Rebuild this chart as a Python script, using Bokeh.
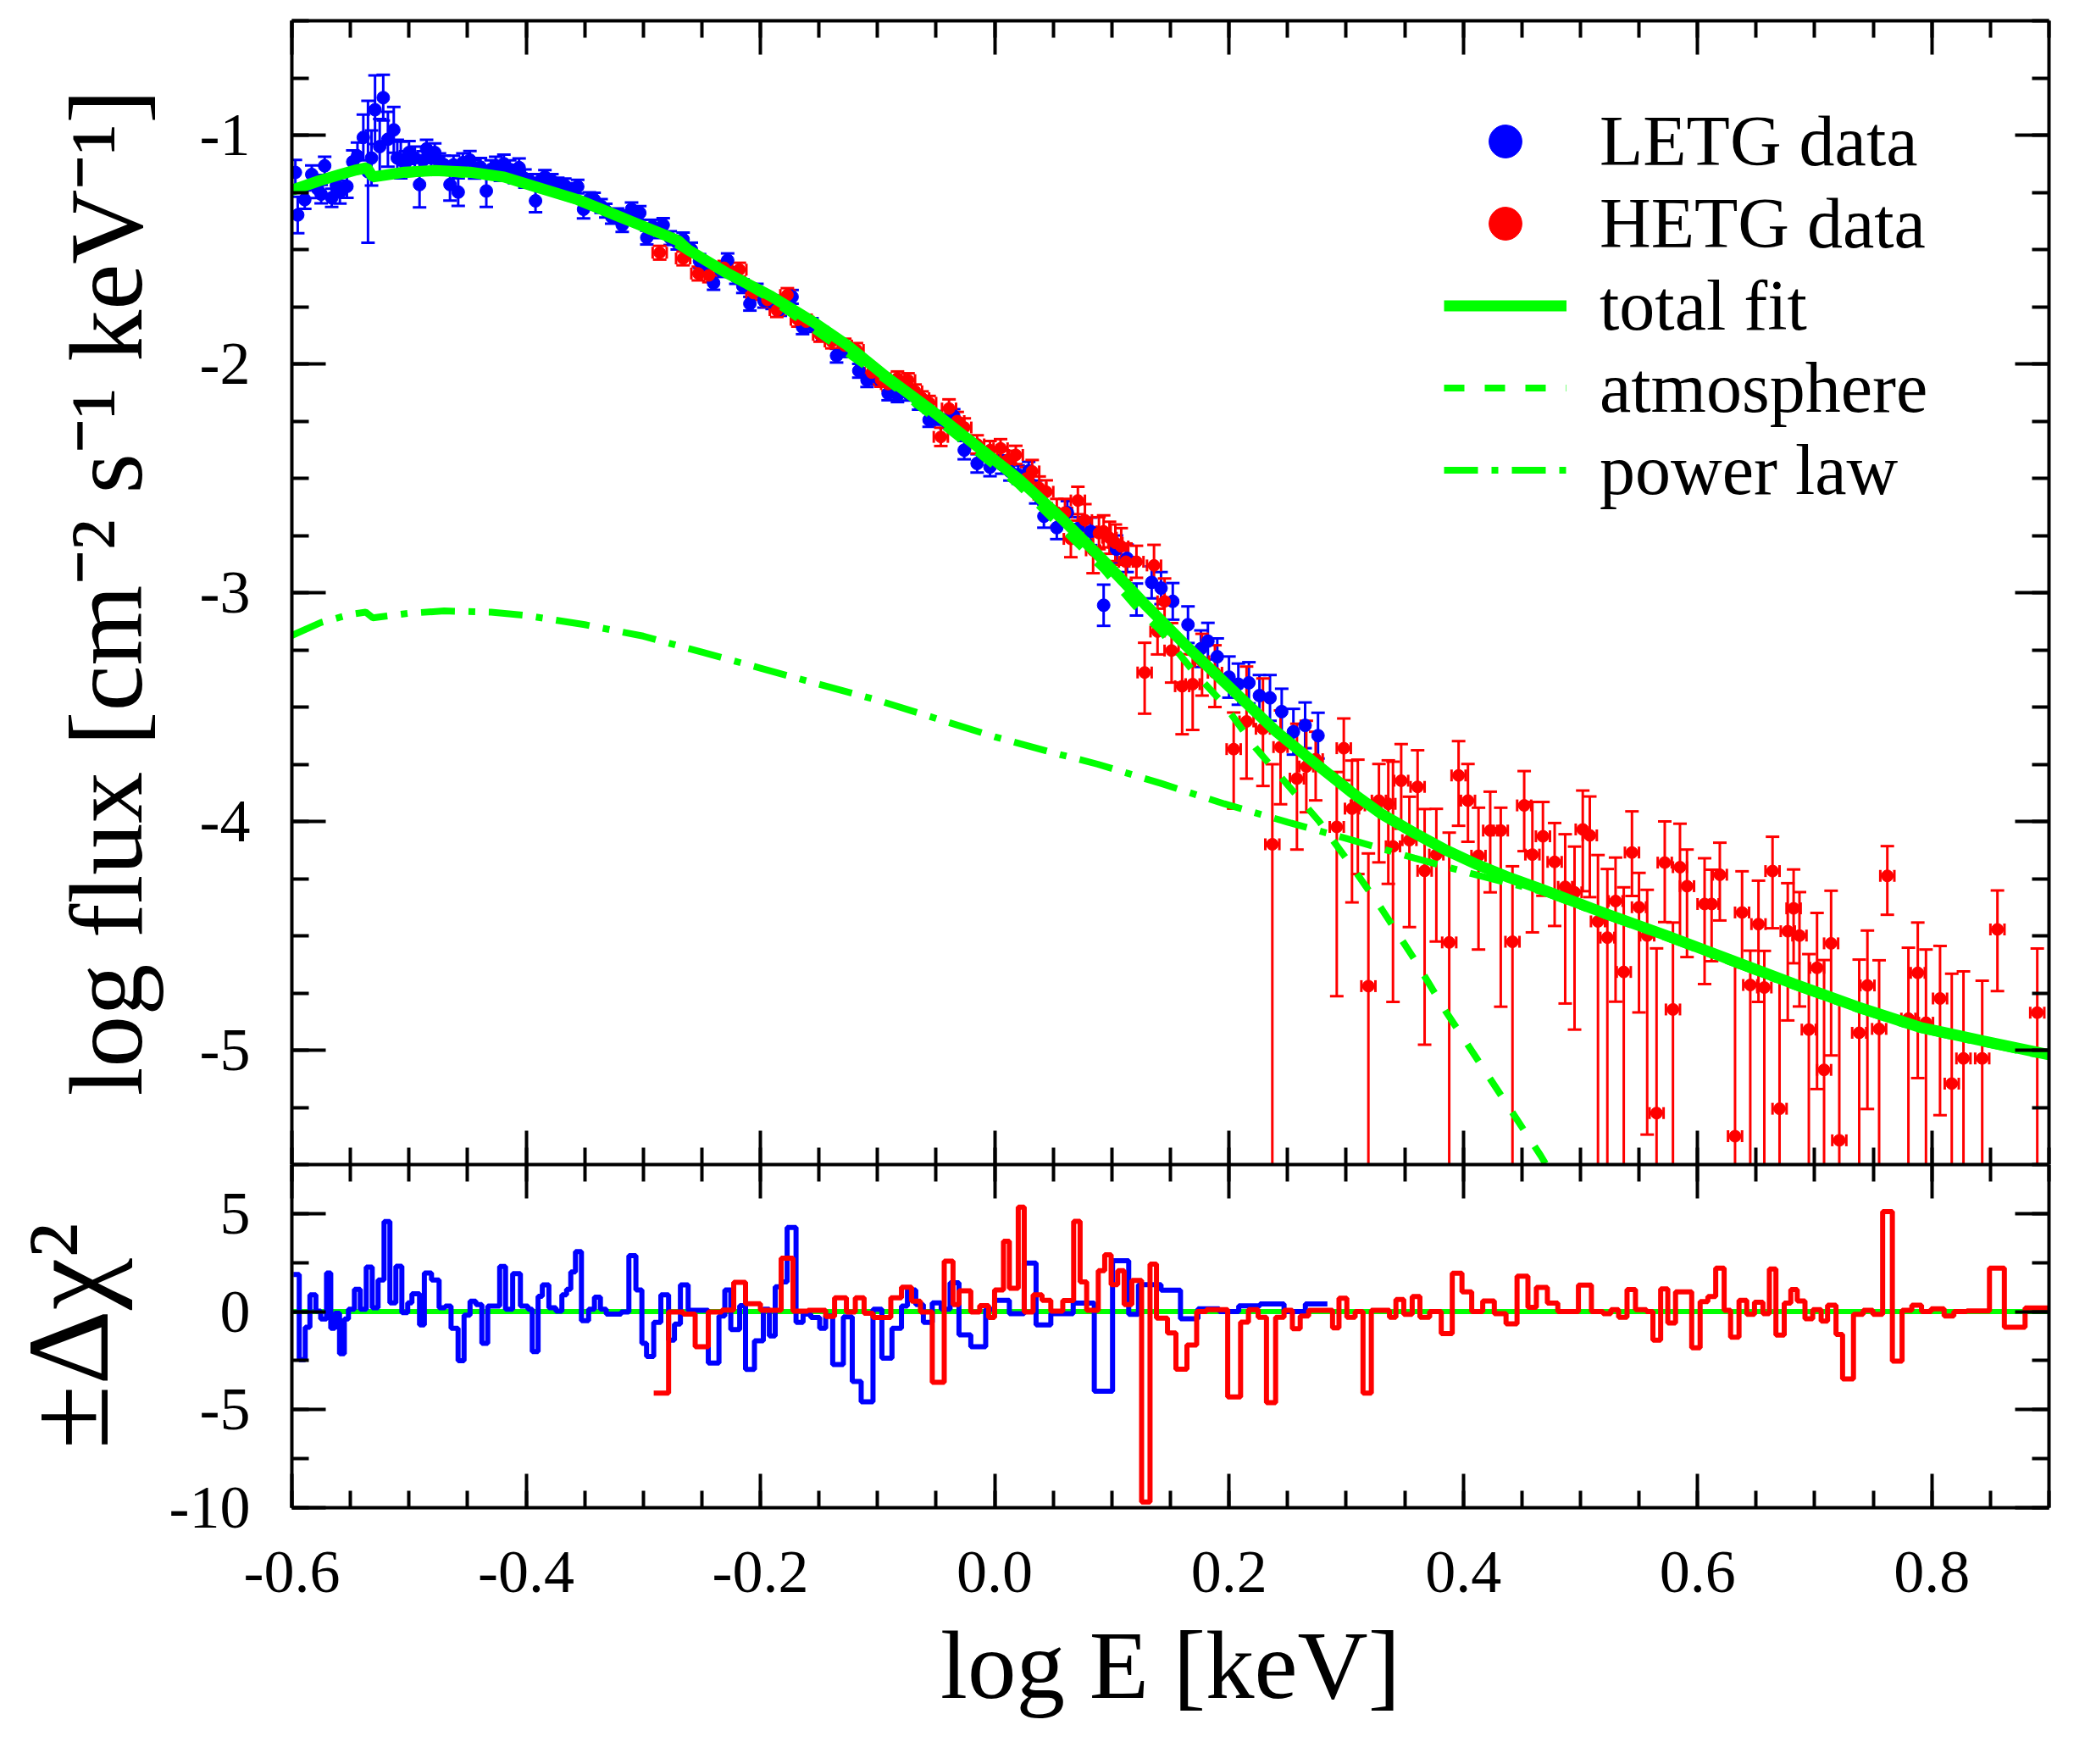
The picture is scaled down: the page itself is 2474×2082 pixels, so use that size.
import math
from bokeh.plotting import figure
from bokeh.models import (Range1d, LinearAxis, FixedTicker, PrintfTickFormatter, Whisker,
                          TeeHead, ColumnDataSource, Legend, LegendItem, Span)
from bokeh.layouts import column
from bokeh.embed import file_html
from bokeh.resources import INLINE

FONT = "Liberation Serif"
GREEN = "#00ff00"
BLUE = "#0000ff"
RED = "#ff0000"

# ---------------- tick positions / labels ----------------
x_major = [-0.6, -0.4, -0.2, 0.0, 0.2, 0.4, 0.6, 0.8]
x_minor = [round(-0.6 + 0.05 * i, 2) for i in range(31)]
flux_major = [-5, -4, -3, -2, -1]
flux_minor = [round(-5.5 + 0.25 * i, 2) for i in range(21)]
res_major = [-10, -5, 0, 5]
res_minor = [-10, -7.5, -5, -2.5, 0, 2.5, 5, 7.5]

# ---------------- LETG data ----------------
letg_x = [-0.597, -0.595, -0.589, -0.583, -0.578, -0.575, -0.572, -0.566, -0.562, -0.559,
          -0.553, -0.548, -0.544, -0.539, -0.535, -0.532, -0.529, -0.525, -0.522, -0.518,
          -0.513, -0.510, -0.507, -0.503, -0.500, -0.495, -0.491, -0.488, -0.485, -0.481,
          -0.478, -0.474, -0.470, -0.465, -0.462, -0.458, -0.454, -0.448, -0.444, -0.439,
          -0.434, -0.430, -0.426, -0.422, -0.419, -0.414, -0.410, -0.406, -0.401, -0.397,
          -0.392, -0.388, -0.384, -0.378, -0.373, -0.367, -0.362, -0.356, -0.351, -0.346,
          -0.342, -0.336, -0.332, -0.327, -0.322, -0.318, -0.314, -0.310, -0.303, -0.297,
          -0.292, -0.288, -0.283, -0.277, -0.271, -0.266, -0.259, -0.252, -0.246, -0.240,
          -0.234, -0.228, -0.221, -0.215, -0.209, -0.203, -0.197, -0.190, -0.183, -0.173,
          -0.164, -0.156, -0.147, -0.135, -0.127, -0.116, -0.109, -0.100, -0.091, -0.083,
          -0.074, -0.065, -0.056, -0.050, -0.042, -0.035, -0.026, -0.015, -0.004, 0.006,
          0.013, 0.020, 0.029, 0.035, 0.042, 0.053, 0.062, 0.071, 0.082, 0.093,
          0.104, 0.113, 0.121, 0.134, 0.142, 0.152, 0.165, 0.176, 0.182, 0.190,
          0.200, 0.208, 0.217, 0.226, 0.235, 0.245, 0.255, 0.265, 0.276]
letg_y = [-1.163, -1.349, -1.282, -1.172, -1.235, -1.258, -1.134, -1.274, -1.220, -1.249,
          -1.224, -1.117, -1.092, -1.010, -1.160, -1.100, -0.889, -1.050, -0.836, -1.018,
          -0.977, -1.100, -1.109, -1.120, -1.076, -1.100, -1.216, -1.110, -1.060, -1.100,
          -1.076, -1.120, -1.130, -1.216, -1.130, -1.249, -1.120, -1.109, -1.150, -1.140,
          -1.244, -1.150, -1.134, -1.160, -1.125, -1.150, -1.170, -1.142, -1.190, -1.200,
          -1.287, -1.200, -1.183, -1.200, -1.216, -1.220, -1.240, -1.225, -1.324, -1.280,
          -1.282, -1.310, -1.330, -1.357, -1.350, -1.393, -1.360, -1.324, -1.340, -1.448,
          -1.400, -1.420, -1.393, -1.450, -1.470, -1.456, -1.500, -1.550, -1.580, -1.646,
          -1.590, -1.547, -1.620, -1.660, -1.737, -1.680, -1.724, -1.730, -1.760, -1.707,
          -1.840, -1.830, -1.870, -1.964, -1.940, -2.030, -2.071, -2.060, -2.129, -2.137,
          -2.130, -2.170, -2.245, -2.236, -2.250, -2.228, -2.377, -2.435, -2.451, -2.440,
          -2.470, -2.484, -2.468, -2.560, -2.666, -2.716, -2.650, -2.720, -2.732, -3.055,
          -2.810, -2.850, -3.030, -2.955, -2.980, -3.038, -3.140, -3.245, -3.212, -3.280,
          -3.369, -3.400, -3.394, -3.450, -3.460, -3.520, -3.608, -3.580, -3.625]
letg_err = [0.055, 0.08, 0.04, 0.04, 0.04, 0.04, 0.04, 0.04, 0.04, 0.05,
            0.05, 0.05, 0.06, 0.10, 0.31, 0.12, 0.15, 0.12, 0.10, 0.12,
            0.10, 0.08, 0.08, 0.05, 0.05, 0.05, 0.10, 0.04, 0.04, 0.04,
            0.04, 0.04, 0.04, 0.07, 0.04, 0.06, 0.04, 0.04, 0.04, 0.04,
            0.07, 0.04, 0.04, 0.04, 0.04, 0.04, 0.04, 0.04, 0.04, 0.03,
            0.05, 0.03, 0.03, 0.03, 0.03, 0.03, 0.03, 0.03, 0.04, 0.03,
            0.03, 0.03, 0.03, 0.03, 0.03, 0.03, 0.03, 0.03, 0.03, 0.03,
            0.03, 0.03, 0.03, 0.03, 0.03, 0.03, 0.03, 0.03, 0.03, 0.03,
            0.03, 0.03, 0.03, 0.03, 0.03, 0.03, 0.03, 0.03, 0.03, 0.03,
            0.03, 0.03, 0.03, 0.03, 0.03, 0.03, 0.03, 0.03, 0.03, 0.03,
            0.03, 0.03, 0.03, 0.03, 0.03, 0.03, 0.04, 0.04, 0.04, 0.04,
            0.04, 0.04, 0.04, 0.05, 0.05, 0.05, 0.05, 0.05, 0.06, 0.09,
            0.06, 0.06, 0.07, 0.07, 0.07, 0.08, 0.08, 0.08, 0.08, 0.08,
            0.09, 0.09, 0.09, 0.09, 0.10, 0.10, 0.10, 0.10, 0.10]

# ---------------- HETG data ----------------
hetg_x = [-0.286, -0.266, -0.253, -0.244, -0.231, -0.218, -0.206, -0.194, -0.186, -0.177,
          -0.168, -0.161, -0.149, -0.139, -0.128, -0.118, -0.105, -0.097, -0.091, -0.083,
          -0.074, -0.068, -0.062, -0.056, -0.046, -0.039, -0.032, -0.026, -0.015, -0.004,
          0.005, 0.011, 0.018, 0.027, 0.032, 0.038, 0.044, 0.053, 0.060, 0.065,
          0.071, 0.077, 0.084, 0.089, 0.093, 0.098, 0.103, 0.108, 0.112, 0.121,
          0.128, 0.136, 0.139, 0.145, 0.151, 0.160, 0.169, 0.177, 0.188, 0.204,
          0.215, 0.229, 0.237, 0.244, 0.258, 0.266, 0.274, 0.292, 0.298, 0.305,
          0.310, 0.319, 0.328, 0.336, 0.340, 0.347, 0.354, 0.361, 0.367, 0.377,
          0.388, 0.396, 0.404, 0.413, 0.423, 0.432, 0.442, 0.452, 0.459, 0.468,
          0.478, 0.487, 0.495, 0.502, 0.508, 0.515, 0.523, 0.530, 0.537, 0.544,
          0.550, 0.557, 0.565, 0.572, 0.579, 0.585, 0.591, 0.606, 0.612, 0.619,
          0.632, 0.638, 0.645, 0.652, 0.657, 0.664, 0.670, 0.677, 0.682, 0.687,
          0.695, 0.702, 0.708, 0.714, 0.721, 0.738, 0.745, 0.755, 0.762, 0.780,
          0.788, 0.795, 0.807, 0.817, 0.827, 0.843, 0.856, 0.890]
hetg_y = [-1.514, -1.539, -1.605, -1.613, -1.580, -1.588, -1.690, -1.720, -1.765, -1.699,
          -1.807, -1.815, -1.873, -1.902, -1.920, -1.939, -2.038, -2.070, -2.088, -2.063,
          -2.071, -2.120, -2.150, -2.170, -2.319, -2.195, -2.250, -2.278, -2.352, -2.377,
          -2.369, -2.420, -2.398, -2.501, -2.470, -2.542, -2.559, -2.650, -2.650, -2.765,
          -2.597, -2.683, -2.815, -2.740, -2.732, -2.760, -2.782, -2.798, -2.865, -2.865,
          -3.349, -2.881, -3.170, -3.038, -3.253, -3.409, -3.400, -3.300, -3.350, -3.684,
          -3.563, -3.595, -4.100, -3.675, -3.813, -3.760, -3.728, -4.024, -3.680, -3.944,
          -3.930, -4.720, -3.909, -3.923, -4.109, -3.822, -4.082, -3.849, -4.216, -4.145,
          -4.529, -3.799, -3.909, -4.150, -4.040, -4.040, -4.526, -3.930, -4.145, -4.065,
          -4.177, -4.286, -4.310, -4.035, -4.061, -4.437, -4.508, -4.348, -4.658, -4.136,
          -4.375, -4.499, -5.275, -4.180, -4.822, -4.200, -4.283, -4.361, -4.361, -4.233,
          -5.376, -4.398, -4.715, -4.449, -4.726, -4.217, -5.256, -4.480, -4.380, -4.499,
          -4.910, -4.640, -5.086, -4.533, -5.394, -4.924, -4.717, -4.907, -4.238, -4.862,
          -4.662, -4.880, -4.774, -5.146, -5.036, -5.036, -4.472, -4.836]
hetg_up = [0.03, 0.03, 0.03, 0.03, 0.03, 0.03, 0.03, 0.03, 0.03, 0.03,
           0.03, 0.03, 0.03, 0.03, 0.03, 0.03, 0.03, 0.03, 0.03, 0.03,
           0.03, 0.03, 0.03, 0.03, 0.04, 0.04, 0.04, 0.04, 0.04, 0.04,
           0.04, 0.04, 0.04, 0.05, 0.05, 0.05, 0.05, 0.06, 0.06, 0.08,
           0.06, 0.07, 0.10, 0.07, 0.07, 0.07, 0.08, 0.08, 0.08, 0.07,
           0.13, 0.09, 0.10, 0.10, 0.12, 0.14, 0.13, 0.12, 0.12, 0.16,
           0.24, 0.22, 0.35, 0.16, 0.24, 0.20, 0.12, 0.24, 0.13, 0.21,
           0.20, 0.58, 0.16, 0.19, 0.37, 0.16, 0.19, 0.16, 0.27, 0.20,
           0.48, 0.15, 0.16, 0.21, 0.17, 0.10, 0.33, 0.15, 0.23, 0.15,
           0.17, 0.23, 0.20, 0.17, 0.17, 0.29, 0.30, 0.19, 0.37, 0.18,
           0.15, 0.20, 0.72, 0.18, 0.38, 0.19, 0.16, 0.20, 0.15, 0.14,
           0.76, 0.18, 0.15, 0.19, 0.16, 0.15, 0.57, 0.21, 0.17, 0.19,
           0.33, 0.24, 0.48, 0.23, 0.61, 0.32, 0.24, 0.30, 0.13, 0.31,
           0.22, 0.32, 0.23, 0.48, 0.38, 0.34, 0.17, 0.28]
hetg_dn = [0.03, 0.03, 0.03, 0.03, 0.03, 0.03, 0.03, 0.03, 0.03, 0.03,
           0.03, 0.03, 0.03, 0.03, 0.03, 0.03, 0.03, 0.03, 0.03, 0.03,
           0.03, 0.03, 0.03, 0.03, 0.04, 0.04, 0.04, 0.04, 0.04, 0.04,
           0.04, 0.04, 0.04, 0.05, 0.05, 0.05, 0.05, 0.06, 0.06, 0.08,
           0.06, 0.07, 0.10, 0.07, 0.07, 0.07, 0.08, 0.08, 0.08, 0.07,
           0.18, 0.09, 0.10, 0.10, 0.14, 0.21, 0.20, 0.15, 0.15, 0.26,
           0.25, 0.25, 3.0, 0.25, 0.31, 0.20, 0.18, 0.74, 0.14, 0.41,
           0.30, 3.0, 0.27, 0.35, 0.68, 0.21, 0.38, 0.23, 0.76, 0.38,
           3.0, 0.22, 0.18, 0.41, 0.27, 0.77, 3.0, 0.20, 0.34, 0.26,
           0.28, 0.51, 0.60, 0.27, 0.27, 3.0, 3.0, 0.44, 3.0, 0.19,
           0.46, 0.87, 3.0, 0.26, 3.0, 0.32, 0.31, 0.35, 0.25, 0.20,
           3.0, 0.24, 3.0, 0.34, 3.0, 0.25, 3.0, 0.39, 0.24, 0.31,
           3.0, 0.53, 3.0, 0.49, 3.0, 3.0, 0.54, 3.0, 0.17, 3.0,
           0.46, 3.0, 0.51, 3.0, 3.0, 3.0, 0.27, 3.0]
hetg_xerr = 0.006

# ---------------- model curves ----------------
total_x = [-0.6, -0.577, -0.559, -0.545, -0.536, -0.531, -0.504, -0.478, -0.448, -0.419,
           -0.393, -0.356, -0.32, -0.285, -0.270, -0.262, -0.228, -0.191, -0.154, -0.127,
           -0.091, -0.054, -0.017, 0.02, 0.057, 0.093, 0.13, 0.167, 0.204, 0.241,
           0.277, 0.304, 0.331, 0.358, 0.385, 0.412, 0.439, 0.466, 0.52, 0.574,
           0.628, 0.682, 0.736, 0.79, 0.844, 0.9]
total_y = [-1.241, -1.20, -1.172, -1.152, -1.142, -1.183, -1.162, -1.155, -1.162, -1.183,
           -1.224, -1.282, -1.357, -1.430, -1.462, -1.50, -1.605, -1.704, -1.82, -1.914,
           -2.063, -2.203, -2.352, -2.501, -2.675, -2.86, -3.06, -3.25, -3.43, -3.61,
           -3.76, -3.87, -3.97, -4.05, -4.125, -4.189, -4.245, -4.295, -4.40, -4.50,
           -4.605, -4.71, -4.81, -4.90, -4.96, -5.02]
atm_x = [-0.6, -0.559, -0.537, -0.531, -0.478, -0.419, -0.356, -0.285, -0.262, -0.191,
         -0.091, 0.02, 0.093, 0.12, 0.142, 0.169, 0.196, 0.223, 0.25, 0.277,
         0.304, 0.33, 0.358, 0.385, 0.412, 0.439, 0.466, 0.48]
atm_y = [-1.246, -1.176, -1.143, -1.188, -1.16, -1.19, -1.29, -1.44, -1.51, -1.72,
         -2.08, -2.53, -2.90, -3.06, -3.17, -3.34, -3.49, -3.68, -3.84, -4.00,
         -4.19, -4.38, -4.60, -4.83, -5.04, -5.25, -5.46, -5.58]
pl_x = [-0.6, -0.575, -0.55, -0.537, -0.531, -0.50, -0.47, -0.43, -0.40, -0.35,
        -0.30, -0.25, -0.20, -0.15, -0.10, -0.05, 0.0, 0.05, 0.088, 0.142,
        0.196, 0.25, 0.304, 0.358, 0.412, 0.466, 0.52, 0.574, 0.628, 0.682,
        0.736, 0.79, 0.844, 0.9]
pl_y = [-3.187, -3.13, -3.095, -3.085, -3.11, -3.09, -3.08, -3.085, -3.10, -3.14,
        -3.19, -3.26, -3.33, -3.40, -3.47, -3.55, -3.63, -3.70, -3.75, -3.834,
        -3.923, -4.003, -4.08, -4.16, -4.235, -4.305, -4.41, -4.51, -4.615, -4.72,
        -4.82, -4.91, -4.97, -5.03]

# ---------------- residuals (bin left edges, values) ----------------
letg_res_left = [-0.5987, -0.5937, -0.5886, -0.5846, -0.5795, -0.5754, -0.5704, -0.5668, -0.5633, -0.5593,
                 -0.5552, -0.5517, -0.5466, -0.5416, -0.5365, -0.5314, -0.5264, -0.5213, -0.5163, -0.5112,
                 -0.5061, -0.5011, -0.4975, -0.4910, -0.4869, -0.4808, -0.4743, -0.4692, -0.4641, -0.4581,
                 -0.4530, -0.4479, -0.4429, -0.4378, -0.4328, -0.4226, -0.4176, -0.4115, -0.4049, -0.3984,
                 -0.3948, -0.3898, -0.3862, -0.3806, -0.3746, -0.3695, -0.3655, -0.3619, -0.3579, -0.3528,
                 -0.3467, -0.3417, -0.3366, -0.3316, -0.3189, -0.3123, -0.3063, -0.3012, -0.2972, -0.2911,
                 -0.2850, -0.2784, -0.2734, -0.2683, -0.2617, -0.2445, -0.2354, -0.2304, -0.2253, -0.2177,
                 -0.2127, -0.2051, -0.1975, -0.1924, -0.1874, -0.1823, -0.1772, -0.1696, -0.1636, -0.1570,
                 -0.1494, -0.1443, -0.1383, -0.1292, -0.1216, -0.1140, -0.1039, -0.0963, -0.0877, -0.0796,
                 -0.0745, -0.0674, -0.0609, -0.0533, -0.0457, -0.0381, -0.0305, -0.0204, -0.0077, -0.0001,
                 0.0125, 0.0252, 0.0353, 0.0479, 0.067, 0.085, 0.1006, 0.1144, 0.1227, 0.1420,
                 0.1586, 0.1735, 0.1917, 0.2083, 0.2265, 0.2470, 0.2652]
letg_res_val = [1.89, -2.45, -0.80, 0.86, 0.03, -0.38, 1.97, -0.85, -0.08, -2.15,
                -0.38, 0.12, 1.14, 0.12, 2.27, 0.20, 1.61, 4.59, 0.45, 2.32,
                -0.05, 0.45, 0.91, -0.68, 1.97, 1.61, 0.20, 0.28, -0.85, -2.50,
                -0.18, 0.53, 0.36, -1.62, 0.28, 2.30, 0.12, 1.94, 0.28, 0.12,
                -2.04, 0.78, 1.36, 0.20, 0.03, 0.86, 1.14, 2.02, 3.06, -0.46,
                0.12, 0.74, 0.12, -0.13, -0.02, 2.85, 1.11, -1.62, -2.29, -0.55,
                0.86, -1.46, -0.63, 1.36, 0.07, -2.62, -0.22, 1.11, -0.91, 0.31,
                -2.95, -1.49, 0.12, -1.24, 1.27, 1.52, 4.29, -0.55, -0.13, -0.30,
                -0.85, -0.22, -2.70, -0.27, -3.56, -4.60, 0.12, -2.37, -0.85, 0.28,
                1.11, 0.36, -0.55, 0.45, 0.12, 1.47, -1.18, -1.79, 0.12, 0.58,
                -0.10, 2.48, -0.68, -0.10, 0.43, -4.06, 2.60, -0.14, 1.38, 1.09,
                -0.36, 0.14, 0.0, 0.29, 0.39, 0.0, 0.39]
letg_res_end = 0.2840

hetg_res_left = [-0.2911, -0.2784, -0.2658, -0.2557, -0.2445, -0.2329, -0.2228, -0.2127, -0.2000, -0.1823,
                 -0.1722, -0.1595, -0.1443, -0.1367, -0.1266, -0.1190, -0.1115, -0.1039, -0.0887, -0.0796,
                 -0.0710, -0.0634, -0.0533, -0.0431, -0.0356, -0.0305, -0.0204, -0.0128, -0.0052, -0.0001,
                 0.0075, 0.0125, 0.0201, 0.0252, 0.0328, 0.0404, 0.0479, 0.0581, 0.0674, 0.0729,
                 0.0785, 0.0884, 0.0939, 0.0994, 0.1050, 0.1105, 0.1171, 0.1254, 0.1326, 0.1381,
                 0.1475, 0.1547, 0.1641, 0.1724, 0.1807, 0.1989, 0.2099, 0.2166, 0.2249, 0.2320,
                 0.2398, 0.2470, 0.2541, 0.2608, 0.2680, 0.2884, 0.2939, 0.3006, 0.3077, 0.3144,
                 0.3215, 0.3370, 0.3425, 0.3492, 0.3564, 0.3630, 0.3713, 0.3812, 0.3906, 0.3989,
                 0.4072, 0.4166, 0.4265, 0.4365, 0.4459, 0.4552, 0.4624, 0.4718, 0.4807, 0.4983,
                 0.5094, 0.5193, 0.5260, 0.5326, 0.5398, 0.5470, 0.5564, 0.5619, 0.5685, 0.5746,
                 0.5812, 0.5950, 0.6022, 0.6088, 0.6155, 0.6227, 0.6282, 0.6354, 0.6420, 0.6486,
                 0.6558, 0.6613, 0.6669, 0.6740, 0.6796, 0.6851, 0.6917, 0.6983, 0.7055, 0.7110,
                 0.7182, 0.7238, 0.7331, 0.7414, 0.7497, 0.7580, 0.7663, 0.7746, 0.7829, 0.7912,
                 0.7994, 0.8105, 0.8188, 0.8298, 0.8492, 0.8619, 0.8796]
hetg_res_val = [-4.16, -0.02, -0.13, -1.79, -0.02, 0.08, 1.49, 0.40, 0.07, 2.72,
                0.03, 0.07, -0.25, 0.70, -0.02, 0.70, -0.08, -0.30, 0.70, 1.24,
                0.53, -0.02, -3.61, 2.57, 0.36, 1.06, -0.02, 0.31, -0.30, 1.11,
                3.59, 1.19, 5.33, -0.02, 0.86, 0.58, 0.03, 0.56, 4.60, 1.52,
                0.07, 2.09, 2.90, 1.38, 2.09, 0.36, 1.59, -9.71, 2.42, -0.33,
                -1.09, -2.94, -1.70, 0.0, 0.10, -4.35, -0.54, 0.10, -0.29, -4.64,
                -0.29, 0.07, -0.87, -0.22, 0.07, -0.83, 0.68, -0.29, 0.0, -4.16,
                0.07, -0.29, 0.62, -0.14, 0.77, -0.29, 0.0, -1.12, 1.96, 1.01,
                0.0, 0.54, -0.10, -0.62, 1.81, 0.22, 1.23, 0.43, 0.0, 1.35,
                0.0, -0.10, 0.10, -0.29, 1.13, 0.10, 0.0, -1.45, 1.16, -0.58,
                1.01, -1.84, 0.51, 0.77, 2.22, 0.07, -1.30, 0.58, -0.14, 0.48,
                -0.10, 2.17, -1.20, 0.43, 1.13, 0.54, -0.36, 0.10, -0.48, 0.33,
                -1.16, -3.43, -0.14, 0.07, -0.14, 5.10, -2.52, 0.07, 0.33, 0.0,
                0.14, -0.22, 0.0, 0.04, 2.22, -0.80, 0.19]
hetg_res_end = 0.9

# ---------------- helpers ----------------
def style_axis(ax, show_labels=True):
    ax.axis_line_width = 4
    ax.axis_line_color = "black"
    ax.major_tick_line_width = 4
    ax.minor_tick_line_width = 4
    ax.major_tick_line_color = "black"
    ax.minor_tick_line_color = "black"
    ax.major_tick_in = 40
    ax.major_tick_out = 0
    ax.minor_tick_in = 20
    ax.minor_tick_out = 0
    ax.major_label_text_font = FONT
    ax.major_label_text_font_size = "72px"
    ax.major_label_text_color = "black"
    if not show_labels:
        ax.major_label_text_font_size = "0px"
        ax.major_label_standoff = 0
    ax.axis_label_text_font = FONT
    ax.axis_label_text_font_style = "normal"
    ax.axis_label_text_color = "black"


W = 2450
LEFT, RIGHT = 339, 32
xr = Range1d(-0.6, 0.9)
xt = FixedTicker(ticks=x_major, minor_ticks=x_minor)

# ---------------- main panel ----------------
main = figure(width=W, height=1374, x_range=xr, y_range=Range1d(-5.5, -0.5),
              output_backend="svg", toolbar_location=None,
              min_border_left=LEFT, min_border_right=RIGHT, min_border_top=24, min_border_bottom=0,
              background_fill_color="white", border_fill_color="white")
main.grid.visible = False
main.outline_line_color = None
yt_main = FixedTicker(ticks=flux_major, minor_ticks=flux_minor)

main.xaxis.ticker = xt
style_axis(main.xaxis[0], show_labels=False)
main.yaxis.ticker = yt_main
main.yaxis.formatter = PrintfTickFormatter(format="%d")
style_axis(main.yaxis[0])
main.yaxis.major_label_standoff = 49
main.yaxis.axis_label = "log flux [cm\u207b\u00b2 s\u207b\u00b9 keV\u207b\u00b9]"
main.yaxis.axis_label_text_font_size = "122px"
main.yaxis.axis_label_standoff = 40

top_ax = LinearAxis(ticker=xt)
style_axis(top_ax, show_labels=False)
main.add_layout(top_ax, "above")
right_ax = LinearAxis(ticker=yt_main)
style_axis(right_ax, show_labels=False)
main.add_layout(right_ax, "right")

# data sources with error limits
src_l = ColumnDataSource(dict(
    x=letg_x, y=letg_y,
    lo=[y - e for y, e in zip(letg_y, letg_err)],
    hi=[y + e for y, e in zip(letg_y, letg_err)]))
src_h = ColumnDataSource(dict(
    x=hetg_x, y=hetg_y,
    lo=[y - d for y, d in zip(hetg_y, hetg_dn)],
    hi=[y + u for y, u in zip(hetg_y, hetg_up)],
    xlo=[x - hetg_xerr for x in hetg_x],
    xhi=[x + hetg_xerr for x in hetg_x]))

def yerr(src, col):
    w = Whisker(source=src, base="x", lower="lo", upper="hi", dimension="height",
                line_color=col, line_width=3,
                lower_head=TeeHead(size=16, line_color=col, line_width=3),
                upper_head=TeeHead(size=16, line_color=col, line_width=3))
    w.level = "underlay"
    main.add_layout(w)

yerr(src_l, BLUE)
yerr(src_h, RED)
wx = Whisker(source=src_h, base="y", lower="xlo", upper="xhi", dimension="width",
             line_color=RED, line_width=3,
             lower_head=TeeHead(size=14, line_color=RED, line_width=3),
             upper_head=TeeHead(size=14, line_color=RED, line_width=3))
wx.level = "underlay"
main.add_layout(wx)

main.scatter("x", "y", source=src_l, size=15, color=BLUE, marker="circle")
main.scatter("x", "y", source=src_h, size=14, color=RED, marker="circle")

r_atm = main.line(atm_x, atm_y, line_color=GREEN, line_width=8, line_dash="24 24")
r_pl = main.line(pl_x, pl_y, line_color=GREEN, line_width=8, line_dash="40 16 8 16")
r_tot = main.line(total_x, total_y, line_color=GREEN, line_width=13)

# legend proxies (no visible data)
leg_l = main.scatter([math.nan], [math.nan], size=32, color=BLUE, marker="circle")
leg_h = main.scatter([math.nan], [math.nan], size=32, color=RED, marker="circle")

legend = Legend(items=[LegendItem(label="LETG data", renderers=[leg_l]),
                       LegendItem(label="HETG data", renderers=[leg_h]),
                       LegendItem(label="total fit", renderers=[r_tot]),
                       LegendItem(label="atmosphere", renderers=[r_atm]),
                       LegendItem(label="power law", renderers=[r_pl])],
                location=(1360, 771))
legend.label_text_font = FONT
legend.label_text_font_size = "84px"
legend.label_text_color = "black"
legend.glyph_width = 145
legend.glyph_height = 97
legend.label_height = 97
legend.label_standoff = 39
legend.spacing = 0
legend.padding = 0
legend.margin = 0
legend.border_line_color = None
legend.background_fill_alpha = 0
main.add_layout(legend)

# ---------------- residual panel ----------------
res = figure(width=W, height=693, x_range=xr, y_range=Range1d(-10, 7.5),
             output_backend="svg", toolbar_location=None,
             min_border_left=LEFT, min_border_right=RIGHT, min_border_top=0, min_border_bottom=288,
             background_fill_color="white", border_fill_color="white")
res.grid.visible = False
res.outline_line_color = None
yt_res = FixedTicker(ticks=res_major, minor_ticks=res_minor)

res.xaxis.ticker = xt
res.xaxis.formatter = PrintfTickFormatter(format="%.1f")
style_axis(res.xaxis[0])
res.xaxis.major_label_standoff = 52
res.xaxis.axis_label = "log E [keV]"
res.xaxis.axis_label_text_font_size = "115px"
res.xaxis.axis_label_standoff = 20

res.yaxis.ticker = yt_res
res.yaxis.formatter = PrintfTickFormatter(format="%d")
style_axis(res.yaxis[0])
res.yaxis.major_label_standoff = 49
res.yaxis.axis_label = "\u00b1\u0394\u03c7\u00b2"
res.yaxis.axis_label_text_font_size = "138px"
res.yaxis.axis_label_standoff = 40

top_r = LinearAxis(ticker=xt)
style_axis(top_r, show_labels=False)
res.add_layout(top_r, "above")
right_r = LinearAxis(ticker=yt_res)
style_axis(right_r, show_labels=False)
res.add_layout(right_r, "right")

zero = Span(location=0, dimension="width", line_color=GREEN, line_width=6)
zero.level = "underlay"
res.add_layout(zero)

res.step(letg_res_left + [letg_res_end], letg_res_val + [letg_res_val[-1]],
         mode="after", line_color=BLUE, line_width=6)
res.step(hetg_res_left + [hetg_res_end], hetg_res_val + [hetg_res_val[-1]],
         mode="after", line_color=RED, line_width=6)

layout = column(main, res, spacing=0)
open("out.html", "w").write(file_html(layout, INLINE))
